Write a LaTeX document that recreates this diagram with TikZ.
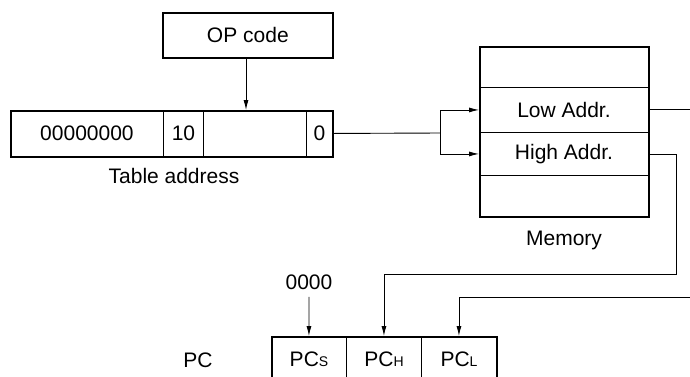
\documentclass[tikz,border=0pt]{standalone}
\usepackage{fontspec}
\setmainfont{Liberation Sans}
\usetikzlibrary{arrows.meta}
\newcommand{\subsc}[1]{{\fontsize{14}{14}\selectfont #1}}
\begin{document}
\begin{tikzpicture}[x=1pt,y=-1pt,
  font=\fontsize{21}{24}\selectfont,
  outerbox/.style={draw,line width=1.7pt,inner sep=0pt},
  cell/.style={draw,line width=0.9pt,inner sep=0pt,anchor=north west},
  conn/.style={line width=0.9pt},
  arr/.style={-{Latex[length=10pt,width=5pt]}}
]
\useasboundingbox (0,0) rectangle (690,376);
\clip (0,0) rectangle (690,376);

% OP code
\node[outerbox,minimum width=170pt,minimum height=45pt,anchor=north west] (op) at (162,12) {OP code};

% Table address register
\node[cell,minimum width=153pt,minimum height=46pt] (t1) at (10,110) {00000000};
\node[cell,minimum width=40pt,minimum height=46pt] (t2) at (163,110) {10};
\node[cell,minimum width=103pt,minimum height=46pt] (t3) at (203,110) {};
\node[cell,minimum width=26pt,minimum height=46pt] (t4) at (306,110) {0};
\node[outerbox,minimum width=322pt,minimum height=46pt,anchor=north west] (tab) at (10,110) {};
\node (tablbl) at (174,176) {Table address};

\draw[conn,arr] (op.south -| 246,0) -- (tab.north -| 246,0);

% Memory
\node[cell,minimum width=169pt,minimum height=41pt] (m1) at (479,46) {};
\node[cell,minimum width=169pt,minimum height=45pt] (low) at (479,87) {Low Addr.};
\node[cell,minimum width=169pt,minimum height=43pt] (high) at (479,132) {High Addr.};
\node[cell,minimum width=169pt,minimum height=41pt] (m4) at (479,175) {};
\node[outerbox,minimum width=169pt,minimum height=170pt,anchor=north west] (mem) at (479,46) {};
\node (memlbl) at (564,240) {Memory};

% connection table -> memory
\coordinate (br) at (440,133);
\draw[conn] (t4.east) -- (br);
\draw[conn,arr] (br) |- (low.west);
\draw[conn,arr] (br) |- (high.west);

% PC register
\node[cell,minimum width=75pt,minimum height=60pt] (pcs) at (271,336) {};
\node[cell,minimum width=75pt,minimum height=60pt] (pch) at (346,336) {};
\node[cell,minimum width=75pt,minimum height=60pt] (pcl) at (421,336) {};
\node[outerbox,minimum width=225pt,minimum height=60pt,anchor=north west] (pc) at (271,336) {};
\node (pcstxt) at (309,359) {PC\subsc{S}};
\node (pchtxt) at (384,359) {PC\subsc{H}};
\node (pcltxt) at (459,359) {PC\subsc{L}};
\node (pclbl) at (198,360) {PC};

\node (zero) at (309,282) {0000};
\draw[conn,arr,shorten <=4pt] (zero.south) -- (pcs.north);

% memory -> PC
\coordinate (lowout) at (690,109);
\draw[conn] (low.east |- lowout) -- (lowout);
\coordinate (hc) at (676,274);
\draw[conn,arr] (high.east) -| (hc) -| (pch.north);
\coordinate (retin) at (690,297);
\draw[conn,arr] (retin) -| (pcl.north);
\end{tikzpicture}
\end{document}
